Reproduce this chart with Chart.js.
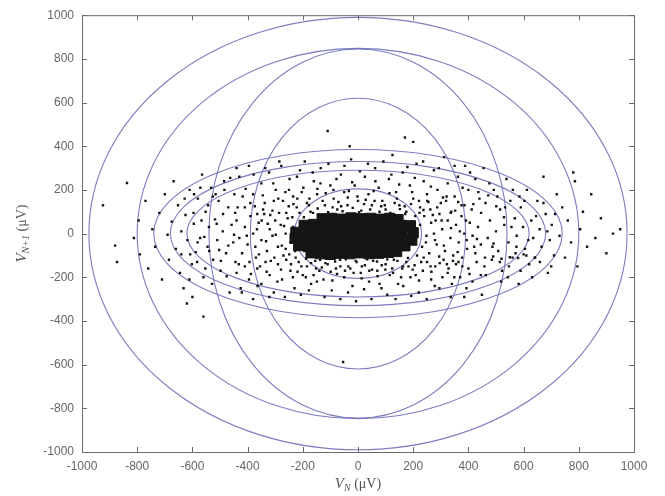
<!DOCTYPE html>
<html>
<head>
<meta charset="utf-8">
<script src="https://cdn.jsdelivr.net/npm/chart.js@4/dist/chart.umd.min.js"></script>
<style>
html, body { margin: 0; padding: 0; background: #fff; }
#wrap { width: 665px; height: 496px; }
</style>
</head>
<body>
<div id="wrap"><canvas id="c"></canvas></div>
<script>
// Tick values shared by both axes (µV)
const axisTicks = [-1000, -800, -600, -400, -200, 0, 200, 400, 600, 800, 1000];

// Ellipses centred on the origin: semi-axes in µV
const ellipseRx = [975, 800, 540, 390, 740, 680, 620, 230];
const ellipseRy = [990, 848, 845, 620, 385, 330, 290, 205];

// Scattered return-map points
const leftWing = [
    [-924, 130], [-880, -55], [-873, -130], [-837, 232], [-812, -20], [-795, 60], [-790, -95],
    [-770, 150], [-760, -160], [-745, 20], [-735, -60], [-720, 95], [-710, -210], [-700, 180],
    [-690, -5], [-685, -120], [-675, 55], [-668, 240], [-660, -70], [-652, 130], [-645, -180],
    [-640, 10], [-632, -250], [-625, 85], [-618, -30], [-610, 200], [-602, -140], [-595, 45],
    [-588, -85], [-580, 160], [-572, -20], [-565, 270], [-560, -200], [-552, 100], [-545, -60],
    [-540, 30], [-532, 210], [-525, -120], [-518, 65], [-510, -30], [-505, 150], [-498, -170],
    [-490, 10], [-485, 240], [-478, -90], [-470, 120], [-465, -270], [-458, 40], [-452, -40],
    [-448, 180], [-444, -130], [-440, 300], [-620, -320], [-560, -380], [-600, -290]
];

const bandUpper = [
    [-430, 260], [-410, 120], [-395, 310], [-380, 180], [-365, 90], [-350, 230], [-338, 140],
    [-322, 280], [-310, 105], [-298, 200], [-285, 330], [-272, 150], [-260, 95], [-248, 250],
    [-235, 170], [-222, 120], [-210, 290], [-198, 210], [-185, 140], [-172, 100], [-160, 240],
    [-148, 180], [-135, 300], [-120, 130], [-110, 470], [-100, 220], [-88, 160], [-75, 110],
    [-62, 270], [-50, 190], [-38, 130], [-25, 340], [-12, 220], [0, 150], [12, 105], [25, 260],
    [38, 180], [50, 130], [62, 300], [75, 210], [88, 150], [100, 110], [112, 250], [125, 360],
    [138, 190], [150, 130], [162, 280], [175, 100], [188, 220], [200, 160], [212, 320], [225, 120],
    [238, 240], [250, 180], [262, 110], [275, 290], [288, 200], [300, 140], [312, 350], [325, 230],
    [338, 100], [350, 170], [362, 260], [375, 130], [388, 310], [400, 200], [412, 110], [425, 250],
    [440, 160], [170, 440], [200, 420], [-30, 400]
];

const bandMiddle = [
    [-440, 60], [-430, -20], [-420, -90], [-410, 30], [-400, -50], [-390, 80], [-380, 0],
    [-370, -110], [-360, 50], [-350, -30], [-340, 90], [-330, -80], [-320, 20], [-310, -10],
    [-300, 60], [-290, -60], [-280, 40], [-270, -100], [-262, 0], [-255, 70], [-245, -40],
    [-235, 30], [-228, -80],
    [225, 40], [232, -60], [240, 80], [248, -10], [258, -90], [265, 50], [275, 0], [285, -50],
    [295, 90], [305, 20], [315, -80], [325, 60], [335, -20], [345, -100], [355, 40], [365, -40],
    [375, 80], [385, 0], [395, -70], [405, 50], [415, -10], [425, -90], [435, 30], [445, -50]
];

const bandLower = [
    [-440, -180], [-425, -250], [-410, -150], [-395, -210], [-380, -300], [-365, -160],
    [-350, -230], [-335, -130], [-320, -190], [-305, -270], [-290, -140], [-275, -210],
    [-260, -120], [-245, -170], [-230, -250], [-215, -130], [-200, -190], [-185, -150],
    [-170, -230], [-155, -125], [-140, -170], [-125, -210], [-110, -140], [-95, -260],
    [-80, -160], [-54, -588], [-65, -120], [-50, -200], [-35, -150], [-20, -240], [-5, -130],
    [10, -180], [25, -145], [40, -220], [55, -125], [70, -170], [85, -250], [100, -140],
    [115, -190], [130, -120], [145, -230], [160, -160], [175, -130], [190, -200], [205, -145],
    [220, -270], [235, -170], [250, -130], [265, -210], [280, -150], [295, -250], [310, -120],
    [325, -180], [340, -230], [355, -140], [370, -200], [385, -290], [400, -160], [415, -220],
    [430, -130], [445, -190]
];

const nearCore = [
    [-390, 140], [-372, -60], [-366, 20], [-355, -150], [-344, 110], [-333, -35], [-327, 45],
    [-316, -125], [-305, 150], [-298, -5], [-286, 95], [-279, -165], [-268, 35], [-262, -70],
    [-251, 125], [-243, -140], [-238, 75], [-226, -110], [-220, 160], [-212, 95], [-205, -150],
    [-196, 75], [-188, -115], [-178, 130], [-170, -135], [-163, 95], [-152, -160], [-146, 115],
    [-137, -120], [-128, 150], [-118, -135], [-108, 98], [-99, -175], [-92, 120], [-83, -128],
    [-71, 145], [-64, -150], [-56, 102], [-44, -118], [-37, 165], [-28, -160], [-19, 118],
    [-8, -125], [4, 98], [14, -150], [22, 135], [33, -118], [44, 110], [51, -165], [60, 150],
    [69, -128], [78, 100], [86, -145], [97, 130], [106, -118], [117, 95], [124, -160], [133, 140],
    [143, -125], [152, 112], [163, -150], [171, 90], [181, -112], [192, 135], [198, -165],
    [207, 80], [214, -100], [221, 150], [229, -130], [237, 108], [246, -40], [255, 145],
    [263, -150], [271, 85], [279, -30], [287, 120], [296, -135], [303, 60], [311, -55],
    [319, 150], [328, -160], [337, 25], [344, -125], [352, 105], [361, -85], [369, 10],
    [378, -150], [386, 130], [394, -30]
];

const denseFill = [
    [-445, 95], [-432, -140], [-418, 170], [-403, -10], [-388, -185], [-374, 125], [-359, -95],
    [-345, 175], [-331, -175], [-318, 85], [-303, -110], [-289, 160], [-276, -55], [-263, 190],
    [-249, -95], [-234, 135], [-219, -175], [-204, 190], [-189, -200], [-176, 160], [-161, -190],
    [-147, 205], [-131, -155], [-117, 185], [-103, -115], [-89, 200], [-76, -185], [-61, 125],
    [-47, -170], [-33, 195], [-16, -180], [-2, 170], [13, -205], [28, 155], [41, -170], [57, 195],
    [71, -195], [84, 125], [99, -165], [114, 185], [127, -180], [141, 160], [156, -200], [169, 125],
    [183, -150], [196, 190], [209, -190], [223, 95], [238, -110], [251, 150], [266, -175], [281, 60],
    [294, -105], [308, 165], [322, -140], [336, 95], [349, -200], [363, 145], [377, -110], [391, 60],
    [404, -185], [418, 135], [431, -25], [446, 95], [458, -150], [472, 175], [487, -60], [501, 125],
    [514, -130], [529, 75], [543, -200], [556, 30], [571, -90], [585, 170], [-470, -55], [-484, 200],
    [-497, -125], [-512, 45], [-526, 170], [-539, -80], [-553, -160], [-567, 60], [-581, -40],
    [-594, 180], [-608, -95]
];

const bandOuter = [
    [-640, -95], [-628, 160], [-611, -210], [-596, 95], [-583, -130], [-571, 210], [-557, -15],
    [-543, 130], [-529, -230], [-516, 180], [-503, -75], [-489, 90], [-476, -195], [-463, 255],
    [-449, -5], [-436, 120], [-421, -270], [-407, 205], [-393, -130], [-378, 270], [-364, -240],
    [-349, 60], [-336, 300], [-321, -290], [-307, 230], [-292, -220], [-278, 310], [-265, -290],
    [-250, 200], [-236, -200], [-221, 260], [-207, -280], [-193, 330], [-178, -260], [-164, 280],
    [-149, -220], [-136, 230], [-121, -290], [-107, 320], [-93, -215], [-78, 250], [-64, -300],
    [-49, 310], [-36, -270], [-21, 235], [-7, -310], [7, 285], [22, -255], [36, 320], [49, -300],
    [63, 240], [78, -230], [92, 330], [106, -280], [121, 270], [136, -300], [149, 225],
    [164, -240], [179, 305], [193, -285], [206, 255], [221, -215], [236, 330], [249, -300],
    [264, 215], [278, -240], [293, 300], [306, -200], [321, 170], [336, -290], [350, 310],
    [364, -130], [379, 210], [393, -250], [406, 280], [421, -60], [436, 190], [449, -280],
    [463, -190], [476, 230], [491, -45], [505, 170], [519, -220], [533, 120], [547, -150],
    [561, 200], [574, -60], [589, -170], [603, 150], [617, -30], [631, -200], [645, 80],
    [659, -130], [672, 140], [686, 10], [700, -150], [714, 90]
];

const rightWing = [
    [455, 300], [462, 140], [470, -20], [478, 60], [485, -120], [492, 200], [500, 10], [508, -80],
    [515, 110], [522, -170], [530, 40], [538, 250], [545, -40], [552, 150], [560, -110], [568, 70],
    [575, -10], [582, -230], [590, 120], [598, 30], [605, -70], [612, 200], [620, -140], [628, 60],
    [635, -20], [642, -110], [650, 150], [658, 20], [665, -60], [672, 260], [680, 90], [688, -180],
    [695, -30], [702, 40], [710, -100], [720, 180], [730, -10], [740, 120], [750, -110], [760, 60],
    [772, -40], [780, 280], [786, 240], [795, -150], [805, 20], [815, 100], [830, -60], [845, 180],
    [860, -20], [880, 70], [900, -90], [924, 0], [950, 20],
    [460, -110], [490, -105], [520, -115], [550, -108], [580, -112], [610, -100], [640, -110], [600, -95]
];

// Dense black core around the origin
const coreCluster = [
    [-130, 68], [-95, 70], [-60, 66], [-25, 72], [10, 68], [45, 70], [80, 66], [115, 70], [145, 64],
    [-195, 38], [-160, 42], [-125, 40], [-90, 44], [-55, 40], [-20, 42], [15, 40], [50, 44], [85, 40],
    [120, 42], [155, 38], [190, 36],
    [-225, 6], [-190, 10], [-155, 8], [-120, 12], [-85, 8], [-50, 10], [-15, 6], [20, 10], [55, 8],
    [90, 12], [125, 8], [160, 6], [200, 4],
    [-228, -22], [-192, -26], [-157, -24], [-122, -28], [-87, -24], [-52, -26], [-17, -22], [18, -26],
    [53, -24], [88, -28], [123, -24], [158, -26], [195, -30],
    [-215, -55], [-180, -60], [-145, -58], [-110, -62], [-75, -58], [-40, -60], [-5, -56], [30, -60],
    [65, -58], [100, -62], [135, -58], [170, -56],
    [-170, -88], [-135, -92], [-100, -95], [-65, -90], [-30, -92], [5, -88], [40, -92], [75, -90],
    [110, -86], [140, -82]
];

const ellipseColor = "rgba(110, 110, 185, 0.9)";
const dotColor = "#151515";

const toXY = (pts) => pts.map(([x, y]) => ({ x, y }));

const sparse = [].concat(leftWing, bandUpper, bandMiddle, bandLower, nearCore, denseFill, bandOuter, rightWing);

// ellipses under the dots, box + inward ticks + titles on top
const decor = {
    id: "decor",
    beforeDatasetsDraw(chart) {
        const { ctx, chartArea: a, scales: { x, y } } = chart;
        ctx.save();
        ctx.beginPath();
        ctx.rect(a.left, a.top, a.right - a.left, a.bottom - a.top);
        ctx.clip();
        ctx.strokeStyle = ellipseColor;
        ctx.lineWidth = 1.1;
        const cx = x.getPixelForValue(0), cy = y.getPixelForValue(0);
        for (let i = 0; i < ellipseRx.length; i++) {
            const rx = x.getPixelForValue(ellipseRx[i]) - cx;
            const ry = cy - y.getPixelForValue(ellipseRy[i]);
            ctx.beginPath();
            ctx.ellipse(cx, cy, rx, ry, 0, 0, Math.PI * 2);
            ctx.stroke();
        }
        ctx.restore();
    },
    afterDatasetsDraw(chart) {
        const { ctx, chartArea: a, scales: { x, y } } = chart;
        ctx.save();
        ctx.strokeStyle = "#6a6a6a";
        ctx.lineWidth = 1;
        ctx.strokeRect(a.left + 0.5, a.top + 0.5, a.right - a.left, a.bottom - a.top);
        const tl = 5;
        ctx.beginPath();
        for (const v of axisTicks) {
            const px = Math.round(x.getPixelForValue(v)) + 0.5;
            ctx.moveTo(px, a.bottom); ctx.lineTo(px, a.bottom - tl);
            ctx.moveTo(px, a.top); ctx.lineTo(px, a.top + tl);
            const py = Math.round(y.getPixelForValue(v)) + 0.5;
            ctx.moveTo(a.left, py); ctx.lineTo(a.left + tl, py);
            ctx.moveTo(a.right, py); ctx.lineTo(a.right - tl, py);
        }
        ctx.stroke();
        ctx.restore();
    },
    afterDraw(chart) {
        const { ctx, chartArea: a } = chart;
        const serif = "'Liberation Serif', 'DejaVu Serif', serif";
        // draws V_sub (µV) centred on (0,0) of the current transform
        const label = (sub) => {
            const parts = [
                { t: "V", f: "italic 15px " + serif, dy: 0 },
                { t: sub, f: "italic 10px " + serif, dy: 4 },
                { t: " (\u03bcV)", f: "14px " + serif, dy: 0 }
            ];
            let w = 0;
            for (const p of parts) { ctx.font = p.f; p.w = ctx.measureText(p.t).width; w += p.w; }
            let xx = -w / 2;
            ctx.textBaseline = "middle";
            ctx.textAlign = "left";
            for (const p of parts) {
                ctx.font = p.f;
                ctx.fillText(p.t, xx, p.dy);
                xx += p.w;
            }
        };
        ctx.save();
        ctx.fillStyle = "#555";
        ctx.translate((a.left + a.right) / 2, 484);
        label("N");
        ctx.restore();
        ctx.save();
        ctx.fillStyle = "#555";
        ctx.translate(22, (a.top + a.bottom) / 2);
        ctx.rotate(-Math.PI / 2);
        label("N+1");
        ctx.restore();
    }
};

const tickFont = { family: "'Liberation Sans', Arial, sans-serif", size: 12 };
const tickText = (v) => String(v);

new Chart(document.getElementById("c"), {
    type: "scatter",
    data: {
        datasets: [
            {
                data: toXY(sparse),
                backgroundColor: dotColor,
                borderWidth: 0,
                pointStyle: "rect",
                pointRadius: 1.7
            },
            {
                data: toXY(coreCluster),
                backgroundColor: dotColor,
                borderColor: dotColor,
                borderWidth: 1,
                pointStyle: "rect",
                pointRadius: 7.2
            }
        ]
    },
    options: {
        responsive: true,
        maintainAspectRatio: false,
        animation: false,
        layout: { padding: { left: 0, top: 15, right: 31, bottom: 0 } },
        plugins: { legend: { display: false }, tooltip: { enabled: false } },
        scales: {
            x: {
                type: "linear",
                min: -1000, max: 1000,
                afterBuildTicks: (s) => { s.ticks = axisTicks.map((v) => ({ value: v })); },
                afterFit: (s) => { s.height = 44; },
                grid: { display: false, drawTicks: false },
                border: { display: false },
                ticks: { color: "#666", font: tickFont, padding: 7, maxRotation: 0, callback: tickText }
            },
            y: {
                type: "linear",
                min: -1000, max: 1000,
                afterBuildTicks: (s) => { s.ticks = axisTicks.map((v) => ({ value: v })); },
                afterFit: (s) => { s.width = 82; },
                grid: { display: false, drawTicks: false },
                border: { display: false },
                ticks: { color: "#666", font: tickFont, padding: 8, callback: tickText }
            }
        }
    },
    plugins: [decor]
});
</script>
</body>
</html>
